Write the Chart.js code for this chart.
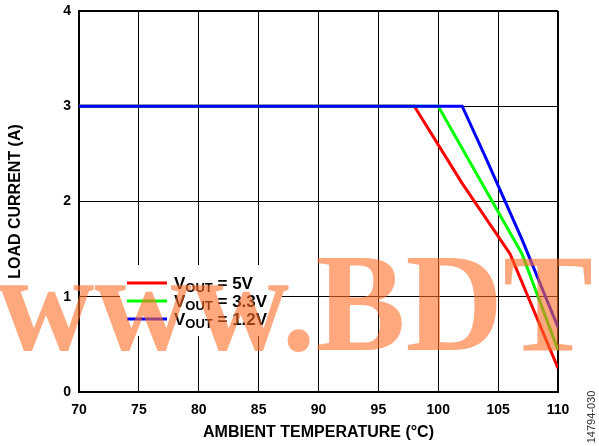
<!DOCTYPE html>
<html lang="en">
<head>
    <meta charset="UTF-8">
    <title>Load Current vs Ambient Temperature</title>
    <style>
        html, body { margin: 0; padding: 0; background: #fff; }
        #wrap { width: 599px; height: 446px; position: relative; }
    </style>
</head>
<body>
    <div id="wrap"><canvas id="chartDerating"></canvas></div>

    <script src="https://cdn.jsdelivr.net/npm/chart.js"></script>
    <script>
        // data
        const seriesNames = ['5V', '3.3V', '1.2V'];
        const seriesColors = ['#FF0000', '#00FF00', '#0000FF'];
        const temp5v = [70, 98, 102, 106, 110];
        const load5v = [3, 3, 2.19, 1.45, 0.25];
        const temp3v3 = [70, 100, 107, 110];
        const load3v3 = [3, 3, 1.45, 0.44];
        const temp1v2 = [70, 102, 104, 107, 110];
        const load1v2 = [3, 3, 2.45, 1.6, 0.68];
        const xTicks = [70, 75, 80, 85, 90, 95, 100, 105, 110];
        const yTicks = [0, 1, 2, 3, 4];

        const FONT = '"Liberation Sans", Arial, sans-serif';

        function puntos(xs, ys) {
            return xs.map((x, i) => ({ x: x, y: ys[i] }));
        }

        const temps = [temp5v, temp3v3, temp1v2];
        const loads = [load5v, load3v3, load1v2];

        const datasets = seriesNames.map((name, i) => ({
            label: 'VOUT = ' + name,
            data: puntos(temps[i], loads[i]),
            borderColor: seriesColors[i],
            borderWidth: 3,
            pointRadius: 0,
            tension: 0,
            fill: false,
            order: 3 - i
        }));

        // leyenda con subindice "OUT"
        const leyenda = {
            id: 'leyenda',
            afterDatasetsDraw(chart) {
                const c = chart.ctx;
                c.save();
                c.fillStyle = '#fff';
                c.fillRect(120, 265, 162, 71);
                seriesNames.forEach((name, i) => {
                    const y = 283 + i * 18;
                    c.strokeStyle = seriesColors[i];
                    c.lineWidth = 3;
                    c.beginPath();
                    c.moveTo(127, y);
                    c.lineTo(167, y);
                    c.stroke();

                    const base = y + 5.5;
                    let x = 174;
                    c.fillStyle = '#000';
                    c.textBaseline = 'alphabetic';
                    c.textAlign = 'left';
                    c.font = 'bold 17px ' + FONT;
                    c.fillText('V', x, base);
                    x += c.measureText('V').width;
                    c.font = 'bold 13px ' + FONT;
                    c.fillText('OUT', x, base + 3.5);
                    x += c.measureText('OUT').width;
                    c.font = 'bold 17px ' + FONT;
                    c.fillText(' = ' + name, x, base);
                });
                c.restore();
            }
        };

        // marca de agua y codigo de figura
        const extras = {
            id: 'extras',
            afterDraw(chart) {
                const c = chart.ctx;
                c.save();
                c.font = 'bold 140px "Liberation Serif", "Times New Roman", serif';
                c.textBaseline = 'alphabetic';
                c.textAlign = 'left';
                const w = c.measureText('www.BDT').width;
                c.translate(-3, 350);
                c.scale(596 / w, 1);
                c.fillStyle = 'rgba(255, 110, 40, 0.6)';
                c.fillText('www.BDT', 0, 0);
                c.restore();

                c.save();
                c.translate(592, 417);
                c.rotate(-Math.PI / 2);
                c.font = '11px ' + FONT;
                c.fillStyle = '#333';
                c.textAlign = 'center';
                c.textBaseline = 'middle';
                c.fillText('14794-030', 0, 0);
                c.restore();
            }
        };

        function bordeGrid(min, max) {
            return ctx => {
                const v = ctx.tick ? ctx.tick.value : null;
                return (v === min || v === max) ? 2 : 1;
            };
        }

        const ctx = document.getElementById('chartDerating').getContext('2d');
        const chart = new Chart(ctx, {
            type: 'line',
            data: { datasets: datasets },
            options: {
                responsive: true,
                maintainAspectRatio: false,
                animation: false,
                layout: { padding: { top: 11, right: 41, left: 0, bottom: 0 } },
                plugins: {
                    legend: { display: false },
                    tooltip: { enabled: false }
                },
                scales: {
                    x: {
                        type: 'linear',
                        min: xTicks[0],
                        max: xTicks[xTicks.length - 1],
                        afterBuildTicks: s => { s.ticks = xTicks.map(v => ({ value: v })); },
                        afterFit: s => { s.height = 54; },
                        grid: { color: '#000', lineWidth: bordeGrid(70, 110), drawTicks: false },
                        border: { color: '#000', width: 2 },
                        ticks: {
                            color: '#000',
                            padding: 10,
                            maxRotation: 0,
                            font: { family: FONT, size: 14, weight: 'bold' }
                        },
                        title: {
                            display: true,
                            text: 'AMBIENT TEMPERATURE (°C)',
                            color: '#000',
                            padding: { top: 0, bottom: 4 },
                            font: { family: FONT, size: 16, weight: 'bold' }
                        }
                    },
                    y: {
                        min: yTicks[0],
                        max: yTicks[yTicks.length - 1],
                        afterBuildTicks: s => { s.ticks = yTicks.map(v => ({ value: v })); },
                        afterFit: s => {
                            s.width = 79;
                            s.paddingTop = 0;
                            s.paddingBottom = 0;
                        },
                        grid: { color: '#000', lineWidth: bordeGrid(0, 4), drawTicks: false },
                        border: { color: '#000', width: 2 },
                        ticks: {
                            color: '#000',
                            padding: 8,
                            font: { family: FONT, size: 14, weight: 'bold' }
                        },
                        title: {
                            display: true,
                            text: 'LOAD CURRENT (A)',
                            color: '#000',
                            padding: { top: 6, bottom: 0 },
                            font: { family: FONT, size: 16, weight: 'bold' }
                        }
                    }
                }
            },
            plugins: [leyenda, extras]
        });
    </script>
</body>
</html>
